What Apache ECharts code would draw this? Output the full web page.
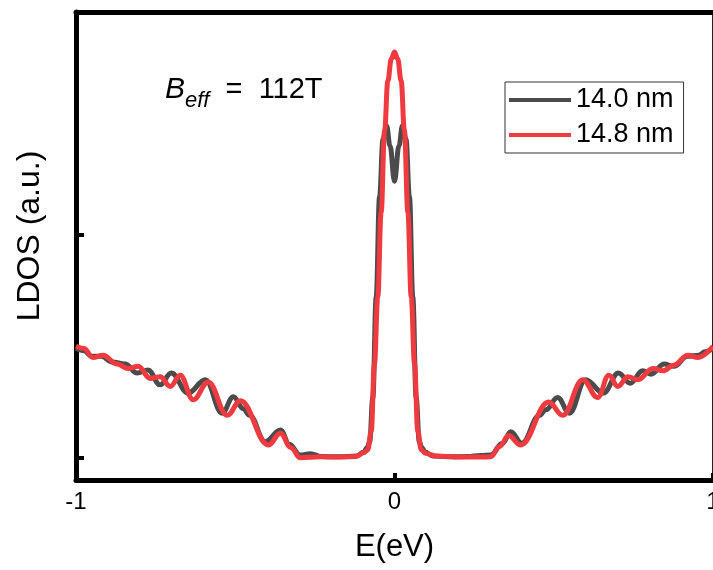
<!DOCTYPE html>
<html>
<head>
<meta charset="utf-8">
<script src="https://cdn.jsdelivr.net/npm/echarts@6/dist/echarts.min.js"></script>
<style>html,body{margin:0;padding:0;background:#fff}#c{width:713px;height:570px}</style>
</head>
<body>
<div id="c"></div>
<script>
var xTicks = [-1, 0, 1];
var yTickValues = [0, 1];
var seriesNames = ['14.0 nm', '14.8 nm'];

var grayE = [-1.0, -0.975, -0.95, -0.92, -0.887, -0.846, -0.808, -0.774, -0.736, -0.701, -0.648, -0.594, -0.541, -0.506, -0.475, -0.455, -0.406, -0.358, -0.33, -0.296, -0.264, -0.23, -0.17, -0.12, -0.097, -0.086, -0.078, -0.068, -0.0575, -0.047, -0.036, -0.025, -0.014, 0, 0.014, 0.025, 0.036, 0.047, 0.0575, 0.068, 0.078, 0.086, 0.097, 0.12, 0.17, 0.23, 0.27, 0.302, 0.339, 0.365, 0.40, 0.455, 0.475, 0.512, 0.549, 0.60, 0.656, 0.703, 0.74, 0.779, 0.805, 0.847, 0.877, 0.92, 0.955, 0.975, 1.0];
var grayY = [0.49, 0.48, 0.455, 0.455, 0.43, 0.42, 0.38, 0.394, 0.327, 0.38, 0.29, 0.35, 0.20, 0.274, 0.22, 0.19, 0.072, 0.124, 0.06, 0.012, 0.018, 0.005, 0.004, 0.008, 0.024, 0.045, 0.07, 0.27, 0.72, 1.17, 1.43, 1.49, 1.40, 1.24, 1.40, 1.49, 1.43, 1.17, 0.72, 0.27, 0.07, 0.045, 0.024, 0.008, 0.004, 0.005, 0.01, 0.012, 0.065, 0.117, 0.065, 0.19, 0.215, 0.27, 0.20, 0.35, 0.29, 0.38, 0.334, 0.39, 0.375, 0.42, 0.41, 0.455, 0.46, 0.475, 0.49];

var redE = [-1.0, -0.975, -0.947, -0.915, -0.871, -0.836, -0.805, -0.767, -0.736, -0.704, -0.673, -0.632, -0.585, -0.525, -0.484, -0.396, -0.358, -0.325, -0.296, -0.233, -0.17, -0.12, -0.097, -0.084, -0.073, -0.063, -0.0525, -0.042, -0.031, -0.021, -0.01, 0, 0.01, 0.021, 0.031, 0.042, 0.0525, 0.063, 0.073, 0.084, 0.097, 0.129, 0.208, 0.27, 0.302, 0.33, 0.358, 0.396, 0.484, 0.528, 0.591, 0.638, 0.673, 0.701, 0.733, 0.764, 0.811, 0.843, 0.877, 0.921, 0.953, 1.0];
var redY = [0.50, 0.49, 0.45, 0.46, 0.42, 0.40, 0.41, 0.356, 0.363, 0.32, 0.37, 0.26, 0.34, 0.19, 0.256, 0.057, 0.11, 0.045, 0.0, 0.004, 0.003, 0.006, 0.022, 0.035, 0.12, 0.42, 0.72, 1.10, 1.47, 1.69, 1.79, 1.82, 1.79, 1.69, 1.47, 1.10, 0.72, 0.42, 0.12, 0.035, 0.02, 0.008, 0.003, 0.003, 0.004, 0.05, 0.10, 0.057, 0.25, 0.19, 0.35, 0.27, 0.37, 0.32, 0.363, 0.35, 0.40, 0.39, 0.415, 0.46, 0.45, 0.50];

function pairs(xs, ys) { return xs.map(function (x, i) { return [x, ys[i]]; }); }

var FONT = "'Liberation Sans', Arial, sans-serif";
var chart = echarts.init(document.getElementById('c'), null, { renderer: 'canvas' });
chart.setOption({
  animation: false,
  backgroundColor: '#fff',
  title: {
    left: 160, top: 70,
    text: '{b|B}{s|eff}{n|  =  112T}',
    textStyle: {
      fontWeight: 'normal',
      rich: {
        b: { fontFamily: FONT, fontSize: 30, fontStyle: 'italic', fontWeight: 'normal', color: '#000', lineHeight: 30 },
        s: { fontFamily: FONT, fontSize: 22, fontStyle: 'italic', fontWeight: 'normal', color: '#000', lineHeight: 22, padding: [22, 0, 0, 0] },
        n: { fontFamily: FONT, fontSize: 29, fontWeight: 'normal', color: '#000', lineHeight: 30 }
      }
    }
  },
  legend: {
    data: seriesNames,
    orient: 'vertical',
    left: 505, top: 82,
    icon: 'rect',
    itemWidth: 62, itemHeight: 4, itemGap: 7,
    padding: [4, 10, 4, 4],
    borderColor: '#333', borderWidth: 1,
    textStyle: { fontFamily: FONT, fontSize: 27, color: '#000', lineHeight: 28 }
  },
  grid: { left: 76, right: 0, top: 12, bottom: 90, containLabel: false, outerBoundsMode: 'none' },
  xAxis: [{
    type: 'value', min: -1, max: 1, interval: 1,
    name: 'E(eV)', nameLocation: 'middle', nameGap: 52,
    nameTextStyle: { fontFamily: FONT, fontSize: 31, color: '#000' },
    axisLine: { onZero: false, lineStyle: { color: '#000', width: 5 } },
    axisTick: { inside: true, length: 7, lineStyle: { color: '#000', width: 4 } },
    axisLabel: { fontFamily: FONT, fontSize: 24, color: '#000', margin: 10, formatter: function (v) { return xTicks.indexOf(v) >= 0 ? String(v) : ''; } },
    splitLine: { show: false }
  }, {
    type: 'value', position: 'top', min: -1, max: 1,
    axisLine: { onZero: false, lineStyle: { color: '#000', width: 5 } },
    axisTick: { show: false }, axisLabel: { show: false }, splitLine: { show: false }
  }],
  yAxis: [{
    type: 'value', min: -0.1, max: 2.0,
    name: 'LDOS (a.u.)', nameLocation: 'middle', nameGap: 30,
    nameTextStyle: { fontFamily: FONT, fontSize: 32, color: '#000', padding: [0, 0, 0, 20] },
    axisLine: { onZero: false, lineStyle: { color: '#000', width: 5 } },
    axisTick: { inside: true, length: 8, customValues: yTickValues, lineStyle: { color: '#000', width: 4 } },
    axisLabel: { show: false },
    splitLine: { show: false }
  }, {
    type: 'value', position: 'right', min: -0.1, max: 2.0,
    axisLine: { show: true, onZero: false, lineStyle: { color: '#222', width: 3 } },
    axisTick: { show: false }, axisLabel: { show: false }, splitLine: { show: false }
  }],
  series: [{
    name: seriesNames[0], type: 'line', xAxisIndex: 0, yAxisIndex: 0,
    data: pairs(grayE, grayY), showSymbol: false, smooth: 0.4, smoothMonotone: 'x',
    color: '#4b4b4b', lineStyle: { color: '#4b4b4b', width: 5 }
  }, {
    name: seriesNames[1], type: 'line', xAxisIndex: 0, yAxisIndex: 0,
    data: pairs(redE, redY), showSymbol: false, smooth: 0.4, smoothMonotone: 'x',
    color: '#ef3b40', lineStyle: { color: '#ef3b40', width: 5 }
  }]
});
</script>
</body>
</html>
